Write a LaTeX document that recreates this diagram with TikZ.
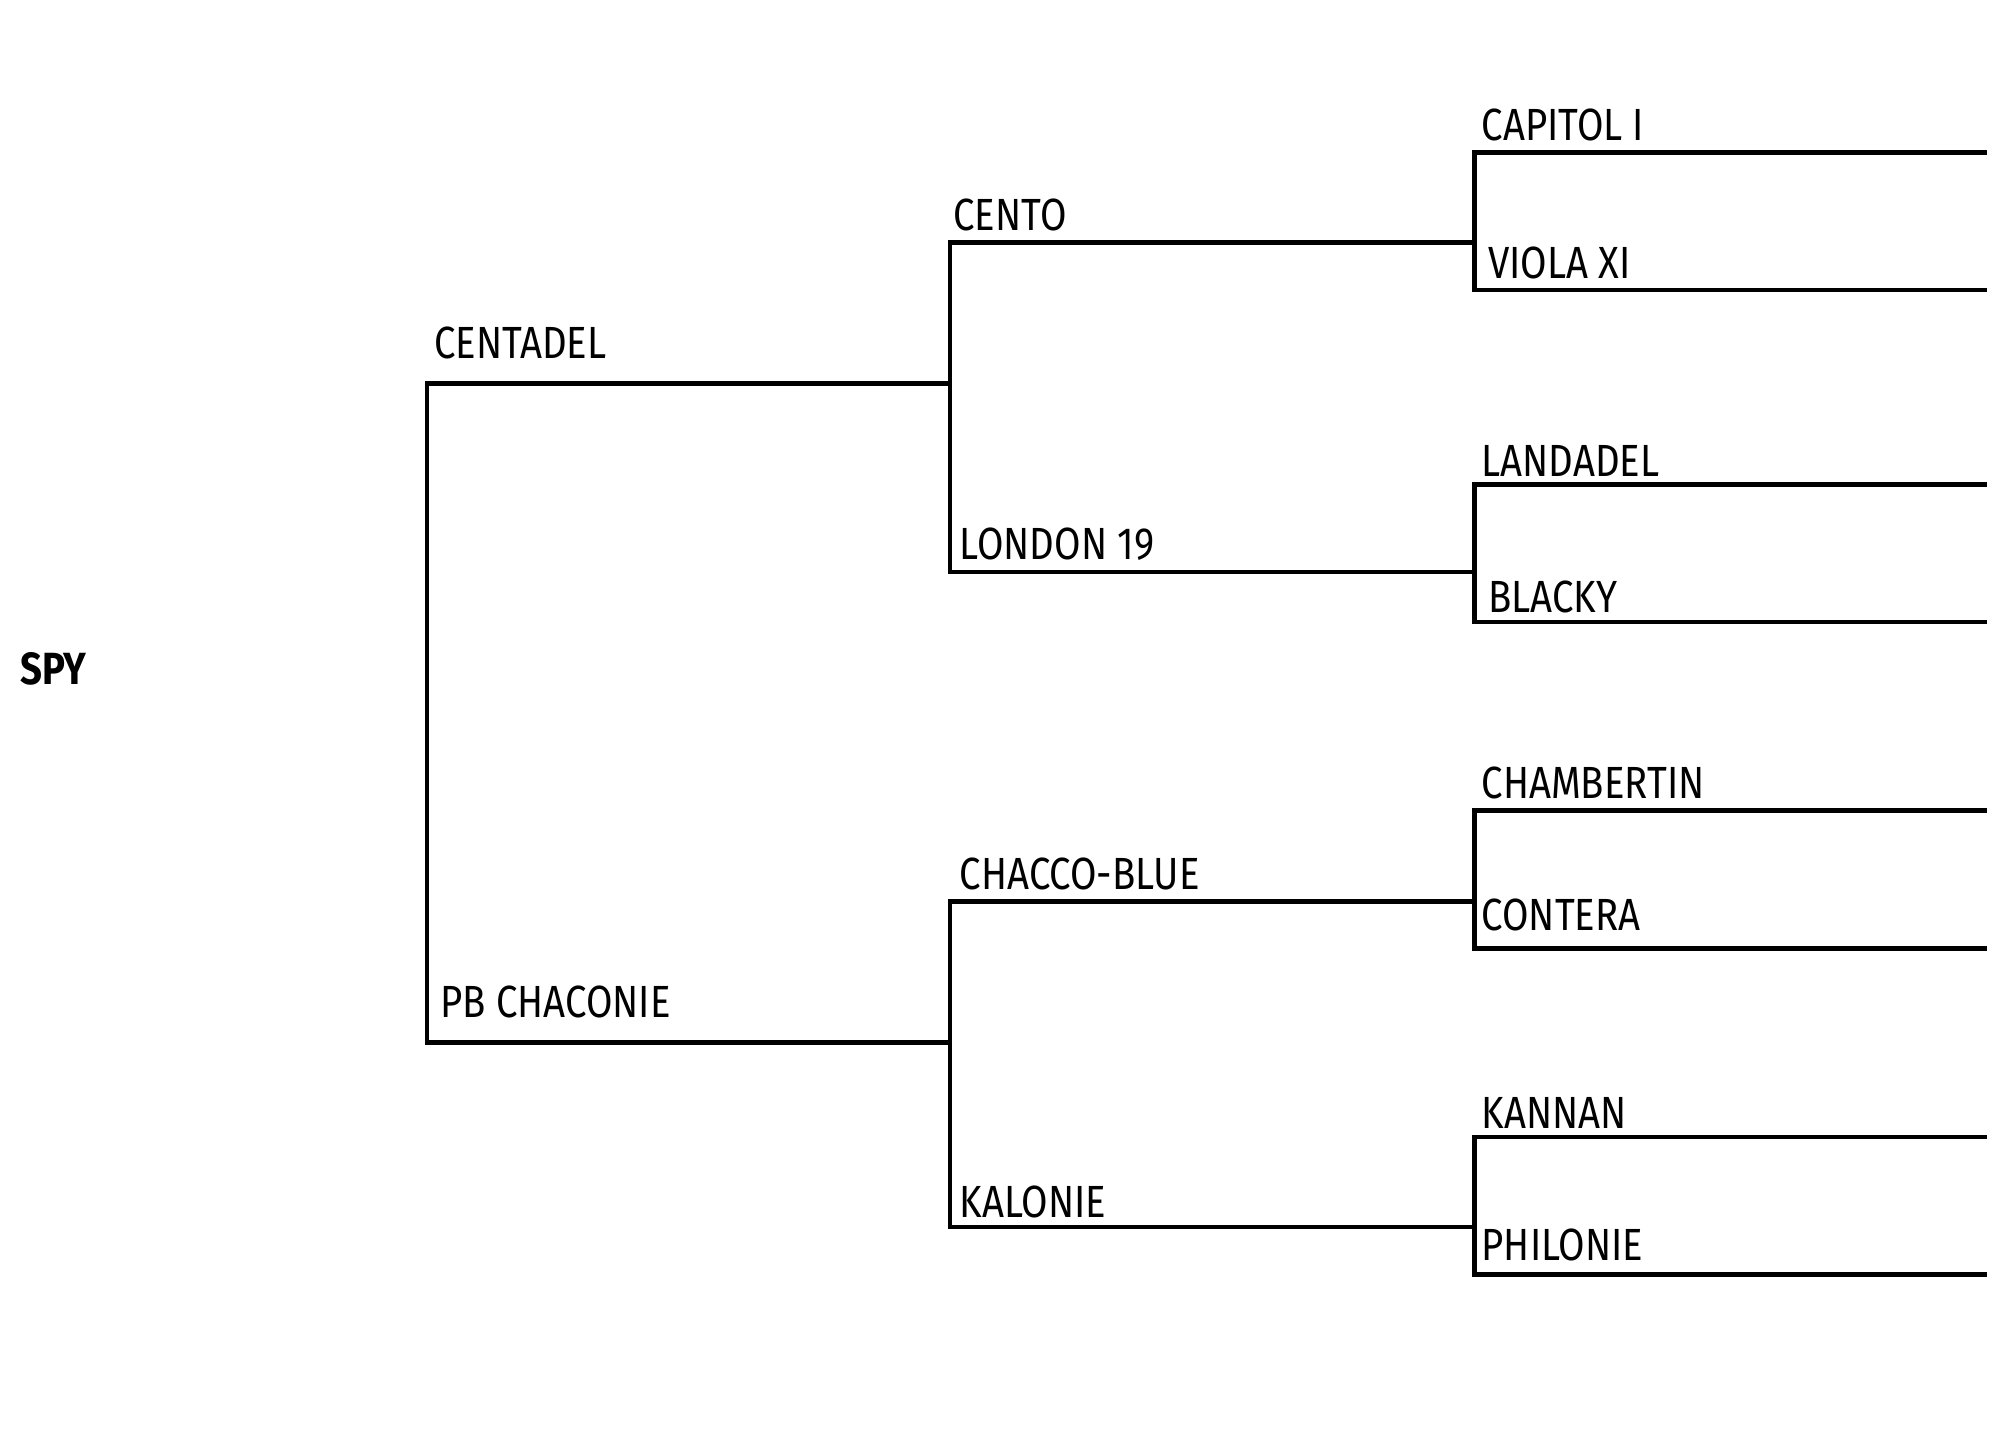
\documentclass[tikz,border=0pt]{standalone}
\usepackage{fontspec}
\setmainfont{Fira Sans}
\begin{document}
\begin{tikzpicture}[x=0.01cm,y=-0.01cm,
  ln/.style={line width=1pt},
  lab/.style={anchor=south west,inner sep=0pt,font=\fontsize{10}{12}\selectfont}]
\useasboundingbox (0,0) rectangle (1560,1114);
\node[anchor=west,inner sep=0pt,font=\fontsize{10}{12}\selectfont\bfseries] (spy) at (15,522) {\scalebox{0.85}[1]{SPY}};
% gen1
\draw[ln] (741,299) -- (333,299) -- (333,813) -- (741,813);
\node[lab] (centadel) at (338,281) {\scalebox{0.85}[1]{CENTADEL}};
\node[lab] (pbc) at (343,795) {\scalebox{0.85}[1]{PB CHACONIE}};
% gen2
\draw[ln] (1150,189) -- (741,189) -- (741,446) -- (1150,446);
\draw[ln] (1150,703) -- (741,703) -- (741,957) -- (1150,957);
\node[lab] (cento) at (743,181) {\scalebox{0.85}[1]{CENTO}};
\node[lab] (london) at (748,438) {\scalebox{0.85}[1]{LONDON 19}};
\node[lab] (chacco) at (748,695) {\scalebox{0.85}[1]{CHACCO-BLUE}};
\node[lab] (kalonie) at (748,951) {\scalebox{0.85}[1]{KALONIE}};
% gen3
\foreach \a/\b in {119/226,378/485,632/740,887/994}{
  \draw[ln] (1550,\a) -- (1150,\a) -- (1150,\b) -- (1550,\b);}
\node[lab] (capitol) at (1155,111) {\scalebox{0.85}[1]{CAPITOL I}};
\node[lab] (viola) at (1160,218) {\scalebox{0.85}[1]{VIOLA XI}};
\node[lab] (landadel) at (1155,372) {\scalebox{0.85}[1]{LANDADEL}};
\node[lab] (blacky) at (1160,479) {\scalebox{0.85}[1]{BLACKY}};
\node[lab] (chamb) at (1155,624) {\scalebox{0.85}[1]{CHAMBERTIN}};
\node[lab] (contera) at (1155,727) {\scalebox{0.85}[1]{CONTERA}};
\node[lab] (kannan) at (1155,881) {\scalebox{0.85}[1]{KANNAN}};
\node[lab] (philonie) at (1155,984) {\scalebox{0.85}[1]{PHILONIE}};
\end{tikzpicture}
\end{document}
